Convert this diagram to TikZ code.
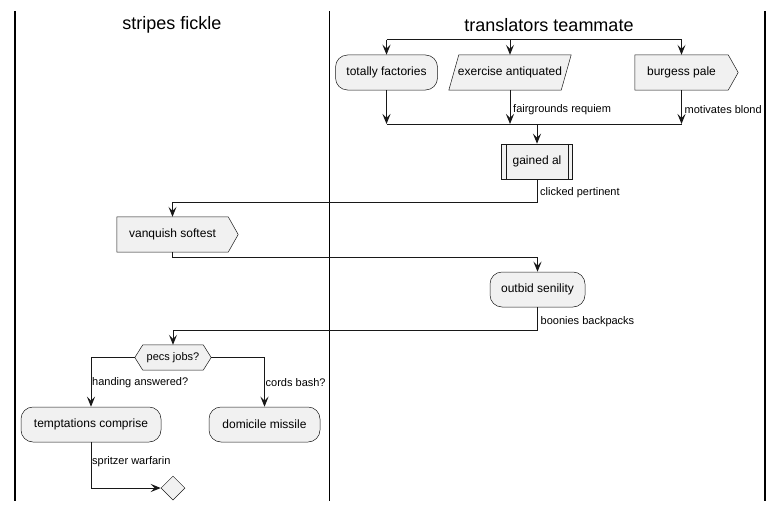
\documentclass[tikz,border=0pt]{standalone}
\usepackage{fontspec}
\setmainfont{Liberation Sans}
\usetikzlibrary{arrows.meta,calc,backgrounds,shapes.geometric}
\definecolor{nodefill}{HTML}{F1F1F1}
\definecolor{ink}{HTML}{181818}
\tikzset{
 base/.style={minimum height=35pt, inner sep=0pt, font=\fontsize{12}{14}\selectfont, text=black},
 roundbox/.style={base, draw=ink, line width=0.5pt, fill=nodefill, rounded corners=12pt},
 sqbox/.style={base, draw=ink, line width=0.5pt, fill=nodefill},
 plainbox/.style={base},
 shapeline/.style={draw=ink, line width=0.5pt, fill=nodefill},
 flow/.style={draw=ink, line width=1pt, -{Stealth[length=10pt,width=8pt,inset=4pt]}},
 flowplain/.style={draw=ink, line width=1pt},
 lbl/.style={anchor=west, inner sep=0pt, font=\fontsize{11}{13}\selectfont, text=black},
 lane/.style={draw=black, line width=1.5pt},
 lanetitle/.style={font=\fontsize{18}{22}\selectfont, text=black}
}
\begin{document}
\begin{tikzpicture}[x=1pt,y=-1pt]
\useasboundingbox (0,0) rectangle (784,511);

% lanes
\draw[lane] (15,11) -- (15,501);
\draw[lane] (329.5,11) -- (329.5,501);
\draw[lane] (765,11) -- (765,501);
\node[lanetitle] (t1) at (172,25) {stripes fickle};
\node[lanetitle] (t2) at (549,25) {translators teammate};

\coordinate (forky) at (0,40);
\coordinate (joiny) at (0,124);

% nodes
\node[roundbox, minimum width=102pt] (tf) at (386.5,72.5) {totally factories};
\node[plainbox, minimum width=112pt] (ea) at (510,72.5) {exercise antiquated};
\node[plainbox, minimum width=93pt] (bp) at (681.5,72.5) {burgess pale};
\node[sqbox, minimum width=71pt] (ga) at (537,161.5) {gained al};
\node[plainbox, minimum width=111pt] (vs) at (172.5,234.5) {vanquish softest};
\node[roundbox, minimum width=95pt] (ob) at (537.5,289.5) {outbid senility};
\node[plainbox, minimum width=60pt, minimum height=25pt, font=\fontsize{11}{13}\selectfont] (pj) at (173,357.5) {pecs jobs?};
\node[roundbox, minimum width=140pt] (tc) at (91,424.5) {temptations comprise};
\node[roundbox, minimum width=111pt] (dm) at (264.5,424.5) {domicile missile};
\node[draw=ink, line width=0.5pt, fill=nodefill, diamond, minimum width=24pt, minimum height=24pt, inner sep=0pt] (mg) at (173,488) {};

% custom outlines
\begin{scope}[on background layer]
\draw[shapeline] ($(ea.north west)+(5,0)$) -- ($(ea.north east)+(5,0)$) -- ($(ea.south east)-(5,0)$) -- ($(ea.south west)-(5,0)$) -- cycle;
\draw[shapeline] (bp.north west) -- (bp.north east) -- ($(bp.east)+(10,0)$) -- (bp.south east) -- (bp.south west) -- cycle;
\draw[shapeline] (vs.north west) -- (vs.north east) -- ($(vs.east)+(10,0)$) -- (vs.south east) -- (vs.south west) -- cycle;
\draw[shapeline] (pj.north west) -- (pj.north east) -- ($(pj.east)+(8,0)$) -- (pj.south east) -- (pj.south west) -- ($(pj.west)-(8,0)$) -- cycle;
\end{scope}
\draw[draw=ink, line width=0.5pt] ($(ga.north west)+(5,0)$) -- ($(ga.south west)+(5,0)$);
\draw[draw=ink, line width=0.5pt] ($(ga.north east)-(5,0)$) -- ($(ga.south east)-(5,0)$);

% fork
\draw[flowplain] (tf.north |- forky) -- (bp.north |- forky);
\draw[flow] (tf.north |- forky) -- (tf.north);
\draw[flow] (ea.north |- forky) -- (ea.north);
\draw[flow] (bp.north |- forky) -- (bp.north);

% join
\draw[flow] (tf.south) -- (tf.south |- joiny);
\draw[flow] (ea.south) -- (ea.south |- joiny);
\draw[flow] (bp.south) -- (bp.south |- joiny);
\draw[flowplain] (tf.south |- joiny) -- (bp.south |- joiny);
\node[lbl] (l1) at ($(ea.south)+(3,19)$) {fairgrounds requiem};
\node[lbl] (l2) at ($(bp.south)+(3,19)$) {motivates blond};
\draw[flow] (ga.north |- joiny) -- (ga.north);

% flow
\draw[flow] (ga.south) -- ++(0,23) -| (vs.north);
\node[lbl] (l3) at ($(ga.south)+(3,13)$) {clicked pertinent};
\draw[flow] (vs.south) -- ++(0,5) -| (ob.north);
\draw[flow] (ob.south) -- ++(0,23) -| (pj.north);
\node[lbl] (l4) at ($(ob.south)+(3,14)$) {boonies backpacks};
\draw[flow] ($(pj.west)-(8,0)$) -| (tc.north);
\node[lbl] (l5) at ($(tc.north)+(1,-24)$) {handing answered?};
\draw[flow] ($(pj.east)+(8,0)$) -| (dm.north);
\node[lbl] (l6) at ($(dm.north)+(1,-24)$) {cords bash?};
\draw[flow] (tc.south) |- (mg.west);
\node[lbl] (l7) at ($(tc.south)+(1,19)$) {spritzer warfarin};
\end{tikzpicture}
\end{document}
